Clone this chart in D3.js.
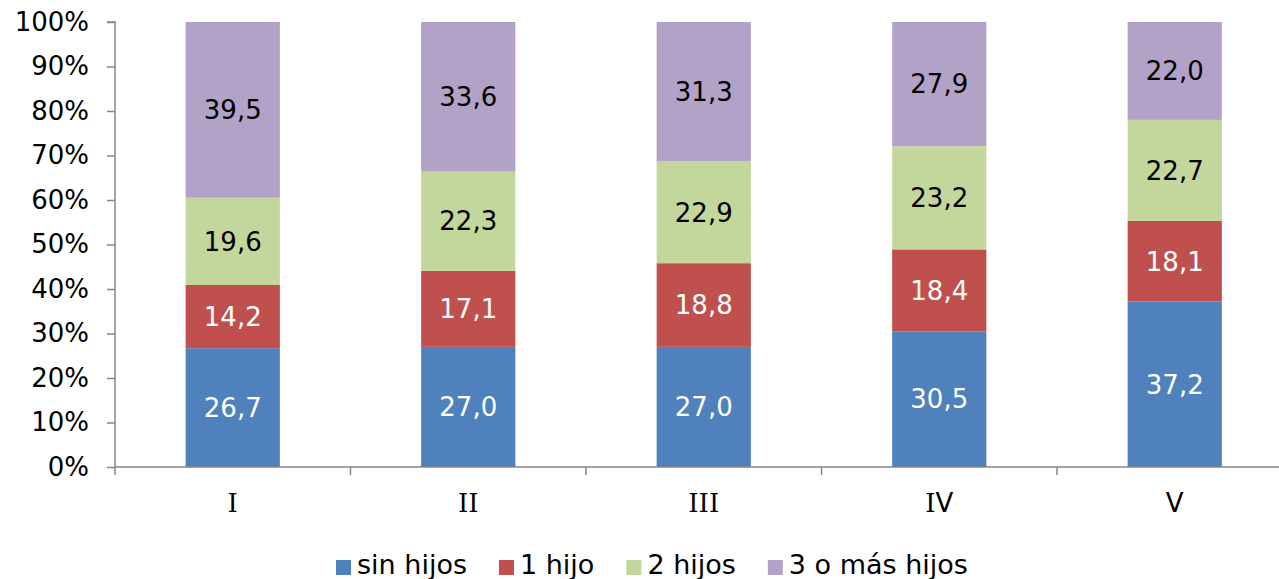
<!DOCTYPE html>
<html><head><meta charset="utf-8">
<script src="https://cdn.jsdelivr.net/npm/d3@7"></script>
<style>body{margin:0;background:#fff}svg{display:block}text{font-family:"DejaVu Sans",Verdana,sans-serif}</style>
</head><body>
<svg id="c" width="1279" height="579"></svg>
<script>
const categories = ["I","II","III","IV","V"];
const seriesNames = ["sin hijos","1 hijo","2 hijos","3 o más hijos"];
const sinHijos = [26.7,27.0,27.0,30.5,37.2];
const unHijo = [14.2,17.1,18.8,18.4,18.1];
const dosHijos = [19.6,22.3,22.9,23.2,22.7];
const tresMas = [39.5,33.6,31.3,27.9,22.0];
const yTicks = [0,10,20,30,40,50,60,70,80,90,100];
const colors = ["#4F81BD","#C0504D","#C3D69B","#B3A2C7"];
const labelColors = ["#fff","#fff","#000","#000"];

const seriesValues = [sinHijos, unHijo, dosHijos, tresMas];
const rows = categories.map((c,i)=>{const r={cat:c}; seriesNames.forEach((s,j)=>r[s]=seriesValues[j][i]); return r;});
const stack = d3.stack().keys(seriesNames)(rows);

const svg = d3.select("#c");
const x = d3.scaleBand().domain(categories).range([115,1292.5]).paddingInner(0.6).paddingOuter(0.3);
const xb = d3.scaleBand().domain(categories).range([115,1292.5]);
const y = d3.scaleLinear().domain([0,100]).range([467,22]);
const axisColor = "#868686";

// bars
stack.forEach((layer,j)=>{
  const g = svg.append("g");
  g.selectAll("rect").data(layer).enter().append("rect")
    .attr("x",d=>x(d.data.cat)).attr("width",x.bandwidth())
    .attr("y",d=>y(d[1])).attr("height",d=>y(d[0])-y(d[1]))
    .attr("fill",colors[j]);
  g.selectAll("text").data(layer).enter().append("text")
    .attr("x",d=>x(d.data.cat)+x.bandwidth()/2)
    .attr("y",d=>(y(d[0])+y(d[1]))/2)
    .attr("dy","0.36em").attr("text-anchor","middle")
    .attr("font-size",26).attr("fill",labelColors[j])
    .text(d=>(d[1]-d[0]).toFixed(1).replace(".",","));
});

// y axis
const ya = svg.append("g").attr("transform","translate(115,0)")
  .call(d3.axisLeft(y).tickValues(yTicks).tickSize(8).tickPadding(18).tickFormat(d=>d+"%"));
ya.select(".domain").attr("stroke",axisColor).attr("stroke-width",1.5).attr("d","M-8,22H0V467");
ya.selectAll(".tick line").attr("stroke",axisColor).attr("stroke-width",1.5);
ya.selectAll(".tick text").attr("font-size",26).attr("fill","#000").attr("font-family","DejaVu Sans, Verdana, sans-serif");

// x axis
const xa = svg.append("g").attr("transform","translate(0,467)");
xa.append("line").attr("x1",115).attr("x2",1292.5).attr("y1",0).attr("y2",0).attr("stroke",axisColor).attr("stroke-width",1.5);
xa.selectAll("line.t").data(categories).enter().append("line").attr("class","t")
  .attr("x1",d=>xb(d)).attr("x2",d=>xb(d)).attr("y1",0).attr("y2",8).attr("stroke",axisColor).attr("stroke-width",1.5);
const cl = xa.selectAll("text").data(categories).enter().append("text")
  .attr("x",d=>xb(d)+xb.bandwidth()/2).attr("y",45).attr("text-anchor","middle")
  .attr("font-size",26).attr("fill","#000");
cl.each(function(d){
  const t = d3.select(this);
  d.split("").forEach(ch=>{
    t.append("tspan").attr("font-family", ch==="I" ? "DejaVu Serif, serif" : "DejaVu Sans, sans-serif").text(ch);
  });
});

// legend
const leg = svg.append("g");
let lx = 336;
seriesNames.forEach((s,j)=>{
  leg.append("rect").attr("x",lx).attr("y",560).attr("width",15).attr("height",15).attr("fill",colors[j]);
  const t = leg.append("text").attr("x",lx+21).attr("y",574).attr("font-size",27)
    .attr("font-family","DejaVu Sans Condensed, DejaVu Sans, sans-serif").attr("fill","#000").text(s);
  lx += 21 + t.node().getComputedTextLength() + 32;
});
</script>
</body></html>
